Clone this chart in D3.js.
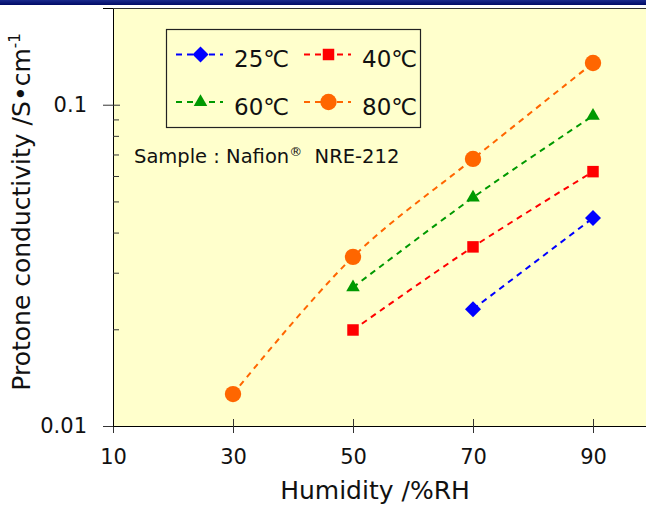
<!DOCTYPE html>
<html>
<head>
<meta charset="utf-8">
<script src="https://cdn.jsdelivr.net/npm/d3@7"></script>
<style>
    body { margin: 0; background: #fff; }
    svg { display: block; font-family: 'DejaVu Sans', Verdana, sans-serif; }
</style>
</head>
<body>
<script>
// 数据: 湿度 (%RH) 和各温度下的质子传导率 (S/cm)
var humidity = [30, 50, 70, 90]
var temps = ['25℃', '40℃', '60℃', '80℃']
var cond25 = [null, null, 0.0231, 0.0444]
var cond40 = [null, 0.0199, 0.0361, 0.0619]
var cond60 = [null, 0.0270, 0.0514, 0.0924]
var cond80 = [0.01257, 0.0336, 0.0678, 0.1348]
var xTicks = [10, 30, 50, 70, 90]
var yTicks = [0.01, 0.1]
var yMinor = [0.02, 0.03, 0.04, 0.05, 0.06, 0.07, 0.08, 0.09, 0.2]

var _width = 646
var _height = 506

var series = [
    {name: temps[0], values: cond25, color: '#0000ff', shape: 'diamond'},
    {name: temps[1], values: cond40, color: '#ff0000', shape: 'square'},
    {name: temps[2], values: cond60, color: '#009900', shape: 'triangle'},
    {name: temps[3], values: cond80, color: '#ff6600', shape: 'circle'}
]

var x = d3.scaleLinear().domain([10, 100]).range([113, 653])
var y = d3.scaleLog().domain([0.01, 0.2]).range([426, 8])

var svg = d3.select('body')
    .append('svg')
    .attr('width', _width)
    .attr('height', _height)

// 顶部的深蓝色条
var grad = svg.append('defs').append('linearGradient')
    .attr('id', 'bar').attr('x1', 0).attr('y1', 0).attr('x2', 0).attr('y2', 1)
grad.append('stop').attr('offset', '0%').attr('stop-color', '#1a2a8c')
grad.append('stop').attr('offset', '100%').attr('stop-color', '#000a66')
svg.append('rect')
    .attr('x', 0).attr('y', 0)
    .attr('width', _width).attr('height', 5)
    .attr('fill', 'url(#bar)')

// 绘图区
svg.append('rect')
    .attr('x', x(10) + 0.5).attr('y', y(0.2) + 0.5)
    .attr('width', 600).attr('height', y(0.01) - y(0.2))
    .attr('fill', '#ffffcc')
    .attr('stroke', '#333')
    .attr('stroke-width', 1)

function symbolFor(shape) {
    if (shape === 'diamond') return d3.symbol().type(d3.symbolSquare).size(128)
    if (shape === 'square') return d3.symbol().type(d3.symbolSquare).size(132)
    if (shape === 'triangle') return d3.symbol().type(d3.symbolTriangle).size(80)
    return d3.symbol().type(d3.symbolCircle).size(210)
}

function drawMarker(g, s, cx, cy) {
    g.append('path')
        .attr('d', symbolFor(s.shape)())
        .attr('fill', s.color)
        .attr('transform', 'translate(' + cx + ',' + cy + ')' + (s.shape === 'diamond' ? ' rotate(45)' : ''))
}

// 折线 (Excel 风格平滑)
var line = d3.line()
    .defined(d => d[1] != null)
    .x(d => x(d[0]))
    .y(d => y(d[1]))
    .curve(d3.curveCatmullRom.alpha(0.5))

var linesG = svg.append('g').attr('class', 'lines')
series.forEach(function (s) {
    var pts = humidity.map((h, i) => [h, s.values[i]]).filter(d => d[1] != null)
    linesG.append('path')
        .attr('d', line(pts))
        .attr('fill', 'none')
        .attr('stroke', s.color)
        .attr('stroke-width', 2)
        .attr('stroke-dasharray', '6,5')
    pts.forEach(function (d) {
        drawMarker(linesG, s, x(d[0]), y(d[1]))
    })
})

// 坐标轴
var xAxis = svg.append('g')
    .attr('transform', 'translate(0,' + y(0.01) + ')')
    .call(d3.axisBottom(x).tickValues(xTicks).tickSize(7).tickPadding(16))
xAxis.select('.domain').attr('stroke', '#000')
xAxis.selectAll('.tick line').attr('y1', -7).attr('stroke', '#333')
xAxis.selectAll('.tick text')
    .attr('font-size', 21)
    .attr('fill', '#111')
    .attr('font-family', 'DejaVu Sans')

var yAxis = svg.append('g')
    .attr('transform', 'translate(' + x(10) + ',0)')
    .call(d3.axisLeft(y).tickValues(yTicks).tickSize(10).tickPadding(16).tickFormat(d3.format('')))
yAxis.select('.domain').attr('stroke', '#000')
yAxis.selectAll('.tick line').attr('x1', d => d === 0.1 ? 7 : 0).attr('stroke', '#333')
yAxis.selectAll('.tick text')
    .attr('font-size', 21)
    .attr('fill', '#111')
    .attr('font-family', 'DejaVu Sans')

svg.append('g')
    .attr('transform', 'translate(' + x(10) + ',0)')
    .call(d3.axisLeft(y).tickValues(yMinor).tickSize(-6).tickFormat(''))
    .call(g => g.select('.domain').remove())
    .selectAll('.tick line').attr('stroke', '#333')

// 轴标题
svg.append('text')
    .attr('x', 375).attr('y', 499)
    .attr('text-anchor', 'middle')
    .attr('font-size', 25)
    .attr('fill', '#111')
    .text('Humidity /%RH')

var yTitle = svg.append('text')
    .attr('transform', 'translate(30,212) rotate(-90)')
    .attr('text-anchor', 'middle')
    .attr('font-size', 25)
    .attr('fill', '#111')
yTitle.append('tspan').text('Protone conductivity /S•cm')
yTitle.append('tspan').attr('font-size', 15).attr('dy', -10).text('-1')

// 样品注释
var note = svg.append('text')
    .attr('x', 134).attr('y', 163)
    .attr('font-size', 19.5)
    .attr('fill', '#111')
note.append('tspan').text('Sample : Nafion')
note.append('tspan').attr('font-size', 13).attr('dy', -7).text('®')
note.append('tspan').attr('dy', 7).text('\u00a0\u00a0NRE-212')

// 图例
var legend = svg.append('g').attr('class', 'legend')
legend.append('rect')
    .attr('x', 166.5).attr('y', 29.5)
    .attr('width', 254).attr('height', 98)
    .attr('fill', '#ffffcc')
    .attr('stroke', '#222')
    .attr('stroke-width', 1.2)

series.forEach(function (s, i) {
    var col = i % 2
    var row = Math.floor(i / 2)
    var lx = 176 + col * 128
    var ly = 54.5 + row * 47.5
    legend.append('line')
        .attr('x1', lx).attr('x2', lx + 47)
        .attr('y1', ly).attr('y2', ly)
        .attr('stroke', s.color)
        .attr('stroke-width', 2)
        .attr('stroke-dasharray', '6,5')
    drawMarker(legend, s, lx + 24.5, ly)
    legend.append('text')
        .attr('x', lx + 58).attr('y', ly + 12.5)
        .attr('font-size', 23)
        .attr('fill', '#111')
        .text(s.name)
})
</script>
</body>
</html>
